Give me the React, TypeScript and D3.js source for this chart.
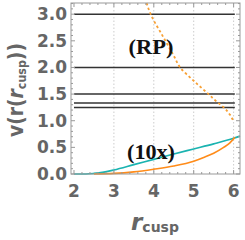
import * as d3 from "d3";

// horizontal reference levels
const levels = [3, 2, 1.5, 4 / 3, 1.25];
const levelStart = 2;
const levelEnd = 6.03;

// cyan curve (x, v)
const cyanX = [2.0, 2.3, 2.5, 2.75, 3.0, 3.5, 4.0, 4.5, 5.0, 5.5, 6.0, 6.16];
const cyanY = [0, 0, 0.01, 0.035, 0.075, 0.175, 0.275, 0.375, 0.47, 0.565, 0.67, 0.71];

// orange solid curve (x, v)
const orangeX = [2.5, 3.0, 3.5, 4.0, 4.5, 5.0, 5.25, 5.5, 5.75, 5.9, 6.0, 6.03];
const orangeY = [0, 0.01, 0.04, 0.09, 0.15, 0.24, 0.31, 0.39, 0.5, 0.58, 0.66, 0.69];

// orange dashed curve (x, v)
const dashX = [3.82, 3.92, 4.2, 4.5, 4.66, 5.0, 5.37, 5.62, 5.74, 5.91, 6.0];
const dashY = [3.21, 3.0, 2.62, 2.22, 2.0, 1.75, 1.5, 1.33, 1.26, 1.11, 0.98];

const xTicks = [2, 3, 4, 5, 6];
const yTicks = [0, 0.5, 1, 1.5, 2, 2.5, 3];
const gridX = [3, 4, 5, 6];

const W = 245;
const H = 240;
const L = 71, R = 240, T = 3, B = 174;

const App = () => {
  const x = d3.scaleLinear().domain([1.925, 6.16]).range([L, R]);
  const y = d3.scaleLinear().domain([0, 3.21]).range([B, T]);

  const line = d3
    .line<[number, number]>()
    .x((d) => x(d[0]))
    .y((d) => y(d[1]))
    .curve(d3.curveMonotoneX);
  const lineY = d3
    .line<[number, number]>()
    .x((d) => x(d[0]))
    .y((d) => y(d[1]))
    .curve(d3.curveMonotoneY);

  const cyan = cyanX.map((v, i) => [v, cyanY[i]] as [number, number]);
  const orange = orangeX.map((v, i) => [v, orangeY[i]] as [number, number]);
  const dashed = dashX.map((v, i) => [v, dashY[i]] as [number, number]);

  const xMinor = d3.range(2, 6.11, 0.2);
  const yMinor = d3.range(0, 3.21, 0.1);
  const frame = "#999";
  const tickFont = "DejaVu Sans, sans-serif";

  return (
    <svg width={W} height={H} style={{ position: "absolute", left: 0, top: 0 }}>
      <rect width={W} height={H} fill="#fff" />
      {gridX.map((g) => (
        <line key={g} x1={x(g)} x2={x(g)} y1={T} y2={B} stroke="#ccc" strokeDasharray="1.5,2" />
      ))}
      {levels.map((l) => (
        <line key={l} x1={x(levelStart)} x2={x(levelEnd)} y1={y(l)} y2={y(l)} stroke="#333" strokeWidth={1.5} />
      ))}
      <path d={line(cyan) ?? ""} fill="none" stroke="#1ab3b0" strokeWidth={1.7} />
      <path d={line(orange) ?? ""} fill="none" stroke="#ff8c1a" strokeWidth={1.7} />
      <path d={lineY(dashed) ?? ""} fill="none" stroke="#f7a035" strokeWidth={1.8} strokeDasharray="2.5,2.5" />

      {/* frame ticks */}
      {xMinor.map((t, i) => {
        const major = xTicks.some((m) => Math.abs(m - t) < 1e-6);
        const len = major ? 4 : 2;
        return (
          <g key={"xm" + i} stroke={frame}>
            <line x1={x(t)} x2={x(t)} y1={B} y2={B - len} />
            <line x1={x(t)} x2={x(t)} y1={T} y2={T + len} />
          </g>
        );
      })}
      {yMinor.map((t, i) => {
        const major = yTicks.some((m) => Math.abs(m - t) < 1e-6);
        const len = major ? 4 : 2;
        return (
          <g key={"ym" + i} stroke={frame}>
            <line x1={L} x2={L + len} y1={y(t)} y2={y(t)} />
            <line x1={R} x2={R - len} y1={y(t)} y2={y(t)} />
          </g>
        );
      })}
      <rect x={L} y={T} width={R - L} height={B - T} fill="none" stroke={frame} />

      {/* tick labels */}
      {xTicks.map((t) => (
        <text key={t} x={x(t)} y={197} textAnchor="middle" fontFamily={tickFont} fontWeight="bold" fontSize={17} fill="#666">
          {t}
        </text>
      ))}
      {yTicks.map((t) => (
        <text key={t} x={67} y={y(t) + 6} textAnchor="end" fontFamily={tickFont} fontWeight="bold" fontSize={17} fill="#666">
          {t.toFixed(1)}
        </text>
      ))}

      {/* axis labels */}
      <text x={131} y={230} fontFamily={tickFont} fontWeight="bold" fill="#666">
        <tspan fontStyle="italic" fontSize={23}>r</tspan>
        <tspan fontSize={14} dy={2}>cusp</tspan>
      </text>
      <g transform="translate(23,90) rotate(-90)">
        <text x={0} y={0} textAnchor="middle" fontFamily={tickFont} fontWeight="bold" fill="#666" fontSize={22} textLength={94} lengthAdjust="spacingAndGlyphs">
          v(r(<tspan fontStyle="italic">r</tspan>
          <tspan fontSize={13} dy={3}>cusp</tspan>
          <tspan dy={-3}>))</tspan>
        </text>
      </g>

      {/* annotations */}
      <text x={151} y={54} textAnchor="middle" fontFamily="Liberation Serif, serif" fontWeight="bold" fontSize={20} textLength={45} lengthAdjust="spacingAndGlyphs" fill="#111">
        (RP)
      </text>
      <text x={151} y={159} textAnchor="middle" fontFamily="Liberation Serif, serif" fontWeight="bold" fontSize={20} textLength={48} lengthAdjust="spacingAndGlyphs" fill="#111">
        (10x)
      </text>
    </svg>
  );
};

export default App;
